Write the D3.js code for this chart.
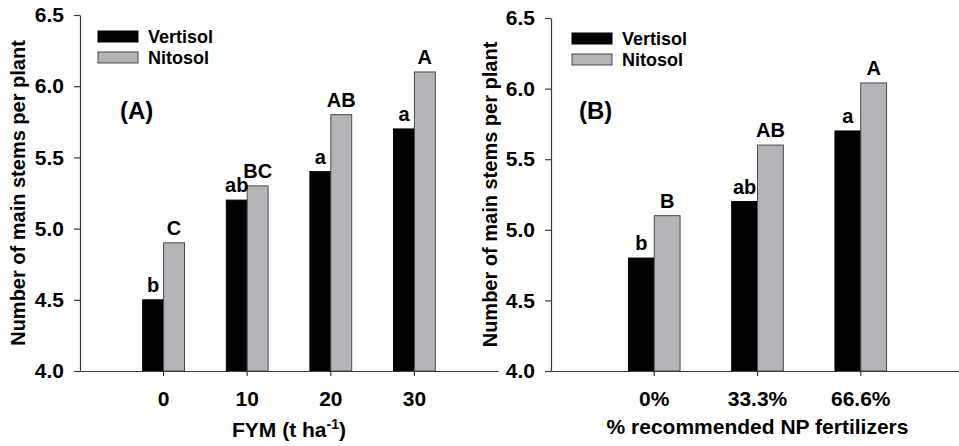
<!DOCTYPE html>
<html>
<head>
<meta charset="utf-8">
<script src="https://cdn.jsdelivr.net/npm/d3@7/dist/d3.min.js"></script>
<style>
  body { margin: 0; background: #fff; }
  svg text { font-family: "Liberation Sans", Arial, sans-serif; font-weight: bold; fill: #000; }
</style>
</head>
<body>
<svg id="chart" width="959" height="446"></svg>
<script>
// data
const series = ["Vertisol", "Nitosol"];
const yTicks = [4.0, 4.5, 5.0, 5.5, 6.0, 6.5];

// panel A : FYM
const fymLevels = ["0", "10", "20", "30"];
const fymVertisol = [4.5, 5.2, 5.4, 5.7];
const fymNitosol = [4.9, 5.3, 5.8, 6.1];
const fymVertisolLetters = ["b", "ab", "a", "a"];
const fymNitosolLetters = ["C", "BC", "AB", "A"];

// panel B : NP fertilizer
const npLevels = ["0%", "33.3%", "66.6%"];
const npVertisol = [4.8, 5.2, 5.7];
const npNitosol = [5.1, 5.6, 6.04];
const npVertisolLetters = ["b", "ab", "a"];
const npNitosolLetters = ["B", "AB", "A"];

const colors = { Vertisol: "#000000", Nitosol: "#b4b4b8" };
const strokes = { Vertisol: "#000000", Nitosol: "#4a4a4a" };
const axisColor = "#3a3a3a";

const svg = d3.select("#chart");

function panel(opt) {
  const g = svg.append("g");

  // scales
  const x = d3.scaleBand()
    .domain(opt.levels)
    .range([opt.left, opt.right])
    .paddingInner(0)
    .paddingOuter(0.5);

  const y = d3.scaleLinear()
    .domain([4.0, 6.5])
    .range([opt.bottom, opt.top]);

  // bar width = a quarter of the step, two bars per group
  const x1 = d3.scaleBand()
    .domain(series)
    .range([-x.step() / 4, x.step() / 4]);

  // table built from the arrays
  const rows = opt.levels.map((lv, i) => ({
    level: lv,
    vals: [
      { s: "Vertisol", v: opt.vert[i], lab: opt.vertLab[i] },
      { s: "Nitosol", v: opt.nito[i], lab: opt.nitoLab[i] }
    ]
  }));

  const groups = g.selectAll(".grp")
    .data(rows)
    .enter()
    .append("g")
    .attr("transform", d => `translate(${x(d.level) + x.bandwidth() / 2},0)`);

  groups.selectAll("rect")
    .data(d => d.vals)
    .enter()
    .append("rect")
    .attr("x", d => x1(d.s))
    .attr("y", d => y(d.v))
    .attr("width", x1.bandwidth())
    .attr("height", d => y(4.0) - y(d.v))
    .attr("fill", d => colors[d.s])
    .attr("stroke", d => strokes[d.s])
    .attr("stroke-width", 1);

  // significance letters
  groups.selectAll(".lab")
    .data(d => d.vals)
    .enter()
    .append("text")
    .attr("x", d => x1(d.s) + x1.bandwidth() / 2)
    .attr("y", d => y(d.v) - 8)
    .attr("text-anchor", "middle")
    .style("font-size", "20px")
    .text(d => d.lab);

  // y axis
  const yAxis = g.append("g")
    .attr("transform", `translate(${opt.left},0)`)
    .call(d3.axisLeft(y).tickValues(yTicks).tickFormat(d3.format(".1f")).tickSize(6).tickSizeOuter(0).tickPadding(10));

  // x axis
  const xAxis = g.append("g")
    .attr("transform", `translate(0,${opt.bottom})`)
    .call(d3.axisBottom(x).tickSize(5).tickSizeOuter(0).tickPadding(15));

  [yAxis, xAxis].forEach(a => {
    a.select(".domain").attr("stroke", axisColor).attr("stroke-width", 1.2);
    a.selectAll(".tick line").attr("stroke", axisColor).attr("stroke-width", 1.2);
    a.selectAll(".tick text")
      .style("font-size", "21px")
      .style("font-family", "'Liberation Sans', Arial, sans-serif")
      .style("font-weight", "bold")
      .attr("fill", "#000");
  });

  // y title
  g.append("text")
    .attr("transform", `translate(${opt.yTitleX},${(opt.top + opt.bottom) / 2}) rotate(-90)`)
    .attr("text-anchor", "middle")
    .attr("dy", "0.35em")
    .style("font-size", "20px")
    .text("Number of main stems per plant");

  // x title
  const xt = g.append("text")
    .attr("x", (opt.left + opt.right) / 2)
    .attr("y", opt.xTitleY)
    .attr("text-anchor", "middle")
    .style("font-size", "21px");
  opt.xTitle(xt);

  // panel tag
  g.append("text")
    .attr("x", opt.tagX)
    .attr("y", opt.tagY)
    .style("font-size", "24px")
    .text(opt.tag);

  // legend
  const leg = g.append("g").attr("transform", `translate(${opt.legX},${opt.legY})`);
  series.forEach((s, i) => {
    leg.append("rect")
      .attr("x", 0)
      .attr("y", i * 21)
      .attr("width", 40)
      .attr("height", 11)
      .attr("fill", colors[s])
      .attr("stroke", strokes[s])
      .attr("stroke-width", 1);
    leg.append("text")
      .attr("x", 50)
      .attr("y", i * 21 + 12)
      .style("font-size", "18px")
      .text(s);
  });
}

panel({
  levels: fymLevels, vert: fymVertisol, nito: fymNitosol,
  vertLab: fymVertisolLetters, nitoLab: fymNitosolLetters,
  left: 80, right: 498, top: 15, bottom: 371,
  yTitleX: 18, xTitleY: 437,
  xTitle: t => {
    t.append("tspan").text("FYM (t ha");
    t.append("tspan").attr("dy", -8).style("font-size", "14px").text("-1");
    t.append("tspan").attr("dy", 8).text(")");
  },
  tag: "(A)", tagX: 120, tagY: 119,
  legX: 98, legY: 31
});

panel({
  levels: npLevels, vert: npVertisol, nito: npNitosol,
  vertLab: npVertisolLetters, nitoLab: npNitosolLetters,
  left: 551, right: 964, top: 18, bottom: 371,
  yTitleX: 490, xTitleY: 434,
  xTitle: t => t.text("% recommended NP fertilizers"),
  tag: "(B)", tagX: 579, tagY: 119,
  legX: 572, legY: 33
});
</script>
</body>
</html>
